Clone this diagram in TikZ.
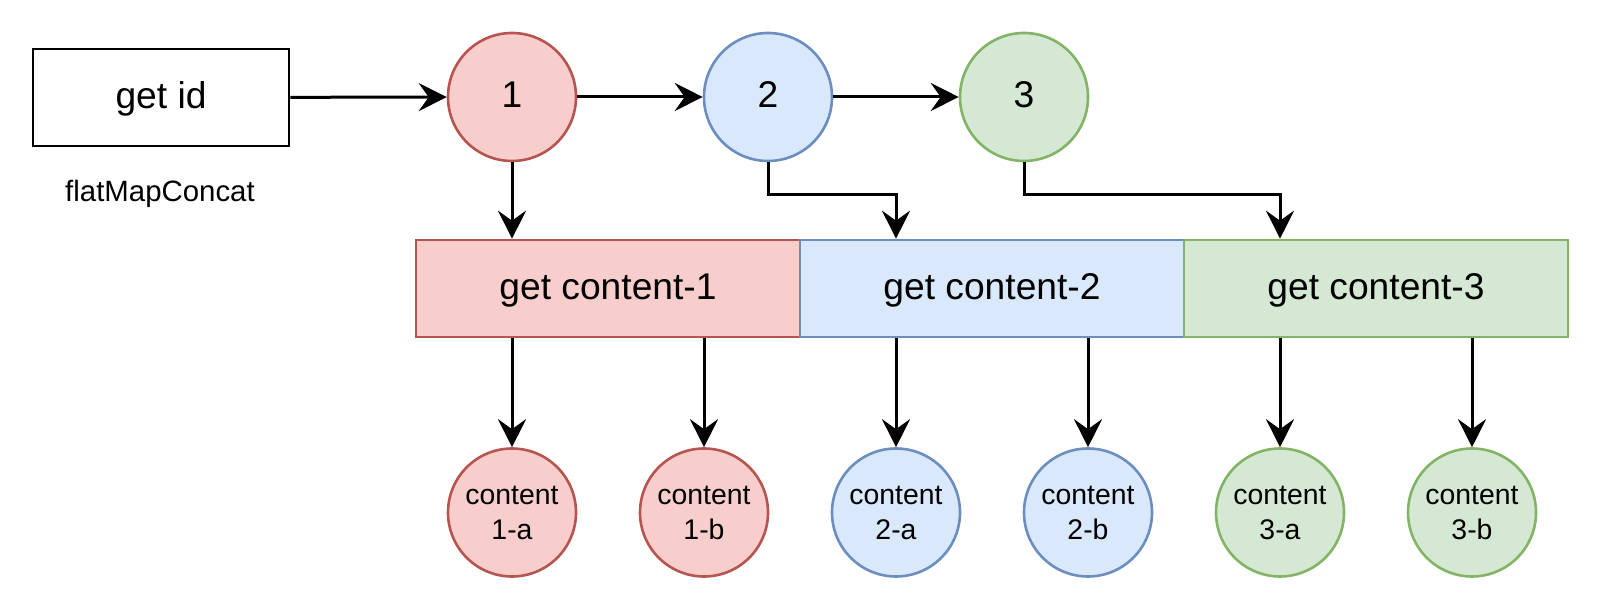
\documentclass[tikz,border=0pt]{standalone}
\usepackage{fontspec}
\setmainfont{Liberation Sans}
\usetikzlibrary{arrows.meta}

\definecolor{redfill}{HTML}{F8CECC}
\definecolor{redline}{HTML}{B85450}
\definecolor{bluefill}{HTML}{DAE8FC}
\definecolor{blueline}{HTML}{6C8EBF}
\definecolor{greenfill}{HTML}{D5E8D4}
\definecolor{greenline}{HTML}{82B366}

\begin{document}
\begin{tikzpicture}[x=0.5pt, y=-0.5pt,
  every node/.style={inner sep=0pt},
  bigtext/.style={font=\fontsize{18.6}{22}\selectfont,
    text height=14.5pt, text depth=3.7pt},
  smalltext/.style={font=\fontsize{14.2}{17.5}\selectfont, align=center},
  labeltext/.style={font=\fontsize{14.7}{18}\selectfont},
  idbox/.style={draw=black, fill=white, line width=1.3pt,
    minimum width=128pt, minimum height=48.5pt, bigtext},
  numcircle/.style={circle, line width=1.3pt, minimum size=64pt, bigtext},
  leaf/.style={circle, line width=1.3pt, minimum size=64pt, smalltext},
  fetchbox/.style={line width=1.3pt, minimum width=192pt,
    minimum height=48.5pt, bigtext},
  redc/.style={draw=redline, fill=redfill},
  bluec/.style={draw=blueline, fill=bluefill},
  greenc/.style={draw=greenline, fill=greenfill},
  flow/.style={draw=black, line width=1.5pt,
    -{Stealth[length=14pt, width=14pt, inset=5pt]}}
]
\useasboundingbox (0,0) rectangle (1600,613);

% source and its label
\node[idbox] (getid) at (161,97.5) {get id};
\node[labeltext] (fmc) at (160,194) {flatMapConcat};

% emitted ids
\node[numcircle, redc]   (n1) at (512,97)  {1};
\node[numcircle, bluec]  (n2) at (768,97)  {2};
\node[numcircle, greenc] (n3) at (1024,97) {3};

% concatenated inner requests
\node[fetchbox, redc]   (gc1) at (608,288.5)  {get content-1};
\node[fetchbox, bluec]  (gc2) at (992,288.5)  {get content-2};
\node[fetchbox, greenc] (gc3) at (1376,288.5) {get content-3};

% results
\node[leaf, redc]   (c1a) at (512,512.5)  {content\\1-a};
\node[leaf, redc]   (c1b) at (704,512.5)  {content\\1-b};
\node[leaf, bluec]  (c2a) at (896,512.5)  {content\\2-a};
\node[leaf, bluec]  (c2b) at (1088,512.5) {content\\2-b};
\node[leaf, greenc] (c3a) at (1280,512.5) {content\\3-a};
\node[leaf, greenc] (c3b) at (1472,512.5) {content\\3-b};

% id stream
\draw[flow] (getid) -- (n1);
\draw[flow] (n1) -- (n2);
\draw[flow] (n2) -- (n3);

% ids into requests
\draw[flow] (n1.south) -- (n1.south |- gc1.north);
\draw[flow] (n2.south) -- ++(0,32) -| (c2a |- gc2.north);
\draw[flow] (n3.south) -- ++(0,32) -| (c3a |- gc3.north);

% requests into results
\draw[flow] (gc1.south -| c1a) -- (c1a);
\draw[flow] (gc1.south -| c1b) -- (c1b);
\draw[flow] (gc2.south -| c2a) -- (c2a);
\draw[flow] (gc2.south -| c2b) -- (c2b);
\draw[flow] (gc3.south -| c3a) -- (c3a);
\draw[flow] (gc3.south -| c3b) -- (c3b);
\end{tikzpicture}
\end{document}
